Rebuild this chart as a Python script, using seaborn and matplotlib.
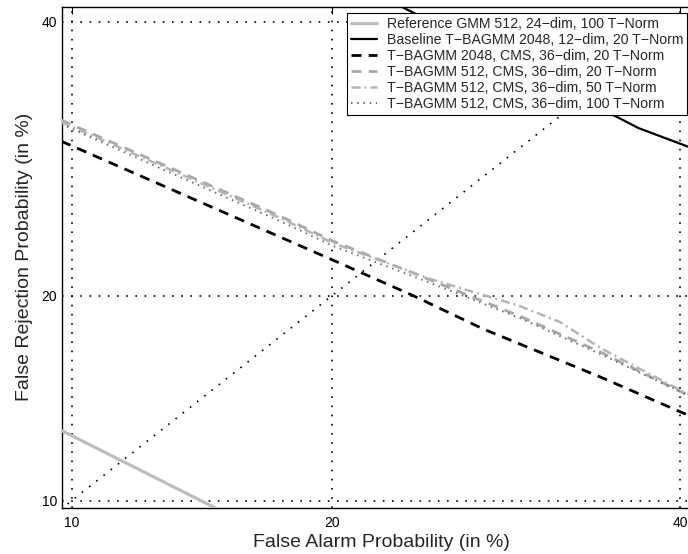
import numpy as np
import matplotlib
matplotlib.use("Agg")
import matplotlib.pyplot as plt
import matplotlib.ticker as mticker
import seaborn as sns
import math

# ---- DET curves: false alarm (%) vs. false rejection (%) ----
ref_fa = [9.1, 15.9]
ref_fr = [13.4, 9.3]

base_fa = [21.8, 23.5, 35.7, 37.3, 40.5, 41.5]
base_fr = [42.6, 41.2, 32.5, 31.5, 30.1, 29.65]

cms2048_fa = [9.7, 20.06, 24.07, 27.9, 34.9, 40.23, 41.5]
cms2048_fr = [30.5, 22.2, 20.0, 18.06, 15.48, 13.7, 13.4]

cms512_20_fa = [9.7, 12.95, 17.64, 20.06, 25.0, 30.0, 34.9, 40.23, 41.5]
cms512_20_fr = [32.1, 28.8, 25.12, 23.44, 20.95, 18.8, 16.79, 14.67, 14.3]

cms512_50_fa = [9.7, 12.95, 17.64, 20.06, 25.0, 30.0, 32.4, 34.9, 40.23, 41.5]
cms512_50_fr = [31.95, 28.66, 24.99, 23.31, 21.01, 19.39, 18.46, 17.01, 14.73, 14.35]

cms512_100_fa = [9.7, 12.95, 17.64, 20.06, 25.0, 30.0, 34.9, 40.23, 41.5]
cms512_100_fr = [31.8, 28.44, 24.78, 23.12, 20.77, 18.69, 16.68, 14.67, 14.3]

labels = [
    "Reference GMM 512, 24\u2212dim, 100 T\u2212Norm",
    "Baseline T\u2212BAGMM 2048, 12\u2212dim, 20 T\u2212Norm",
    "T\u2212BAGMM 2048, CMS, 36\u2212dim, 20 T\u2212Norm",
    "T\u2212BAGMM 512, CMS, 36\u2212dim, 20 T\u2212Norm",
    "T\u2212BAGMM 512, CMS, 36\u2212dim, 50 T\u2212Norm",
    "T\u2212BAGMM 512, CMS, 36\u2212dim, 100 T\u2212Norm",
]
tick_vals = [10, 20, 40]


# ---- normal-deviate (probit) axis scale ----
_a = [-3.969683028665376e+01, 2.209460984245205e+02, -2.759285104469687e+02,
      1.383577518672690e+02, -3.066479806614716e+01, 2.506628277459239e+00]
_b = [-5.447609879822406e+01, 1.615858368580409e+02, -1.556989798598866e+02,
      6.680131188771972e+01, -1.328068155288572e+01]
_c = [-7.784894002430293e-03, -3.223964580411365e-01, -2.400758277161838e+00,
      -2.549732539343734e+00, 4.374664141464968e+00, 2.938163982698783e+00]
_d = [7.784695709041462e-03, 3.224671290700398e-01, 2.445134137142996e+00,
      3.754408661907416e+00]


def _ppf(p):
    p = np.clip(np.asarray(p, dtype=float), 1e-9, 1 - 1e-9)
    plow = 0.02425
    q = p - 0.5
    r = q * q
    central = (((((_a[0]*r+_a[1])*r+_a[2])*r+_a[3])*r+_a[4])*r+_a[5])*q / \
              (((((_b[0]*r+_b[1])*r+_b[2])*r+_b[3])*r+_b[4])*r+1)
    ql = np.sqrt(-2*np.log(p))
    low = (((((_c[0]*ql+_c[1])*ql+_c[2])*ql+_c[3])*ql+_c[4])*ql+_c[5]) / \
          ((((_d[0]*ql+_d[1])*ql+_d[2])*ql+_d[3])*ql+1)
    qu = np.sqrt(-2*np.log(1-p))
    up = -(((((_c[0]*qu+_c[1])*qu+_c[2])*qu+_c[3])*qu+_c[4])*qu+_c[5]) / \
         ((((_d[0]*qu+_d[1])*qu+_d[2])*qu+_d[3])*qu+1)
    return np.where(p < plow, low, np.where(p > 1 - plow, up, central))


_erf = np.vectorize(math.erf)


def fwd(v):
    return _ppf(np.asarray(v, dtype=float) / 100.0)


def inv(z):
    z = np.asarray(z, dtype=float)
    return 100.0 * 0.5 * (1.0 + _erf(z / math.sqrt(2.0)))


sns.set_theme(style="white")
plt.rcParams["font.family"] = ["Liberation Sans", "DejaVu Sans"]

fig = plt.figure(figsize=(6.88, 5.54), dpi=100)
# the frame runs slightly past the right edge of the canvas
ax = fig.add_axes([62 / 688, 46 / 554, 638 / 688, 501.3 / 554])
ax.set_xscale("function", functions=(fwd, inv))
ax.set_yscale("function", functions=(fwd, inv))

dot = (0, (1.0, 4.5))
# equal-error diagonal
sns.lineplot(x=[1, 99], y=[1, 99], ax=ax, sort=False, estimator=None,
             color="black", linewidth=1.2, linestyle=dot, zorder=1)

series = [
    (ref_fa, ref_fr, "#bdbdbd", "-", 2.3),
    (base_fa, base_fr, "black", "-", 1.6),
    (cms2048_fa, cms2048_fr, "black", (0, (3.6, 2.6)), 2.0),
    (cms512_20_fa, cms512_20_fr, "#a8a8a8", (0, (3.6, 2.6)), 2.0),
    (cms512_50_fa, cms512_50_fr, "#b4b4b4", (0, (3.6, 1.6, 0.8, 1.6)), 1.8),
    (cms512_100_fa, cms512_100_fr, "#6e6e6e", (0, (0.8, 2.4)), 1.4),
]
for (fa, fr, col, ls, lw), lab in zip(series, labels):
    sns.lineplot(x=fa, y=fr, ax=ax, sort=False, estimator=None, color=col,
                 linestyle=ls, linewidth=lw, label=lab, zorder=3)

ax.set_xlim(9.72, 41.3)
ax.set_ylim(9.73, 41.24)

for axis in (ax.xaxis, ax.yaxis):
    axis.set_major_locator(mticker.FixedLocator(tick_vals))
    axis.set_major_formatter(mticker.FixedFormatter([str(t) for t in tick_vals]))
    axis.set_minor_locator(mticker.NullLocator())

ax.grid(True, which="major", color="black", linewidth=1.2, linestyle=dot)
ax.tick_params(direction="in", length=5, width=0.8, top=True, right=True,
               labelsize=10, colors="black")
ax.tick_params(axis="x", pad=6)
ax.tick_params(axis="y", pad=3.5)
for s in ax.spines.values():
    s.set_visible(True)
    s.set_color("black")
    s.set_linewidth(1.0)

ax.set_xlabel("False Alarm Probability (in %)", fontsize=14, labelpad=2.5)
ax.set_ylabel("False Rejection Probability (in %)", fontsize=14, labelpad=6)

leg = ax.legend(loc="upper left", bbox_to_anchor=(285 / 638, 0.9874),
                borderaxespad=0, fontsize=10.2, frameon=True, fancybox=False,
                framealpha=1, edgecolor="black", handlelength=1.8,
                handletextpad=0.7, labelspacing=0.14, borderpad=0.3)
leg.get_frame().set_linewidth(0.8)

fig.savefig("out.png", dpi=100)
